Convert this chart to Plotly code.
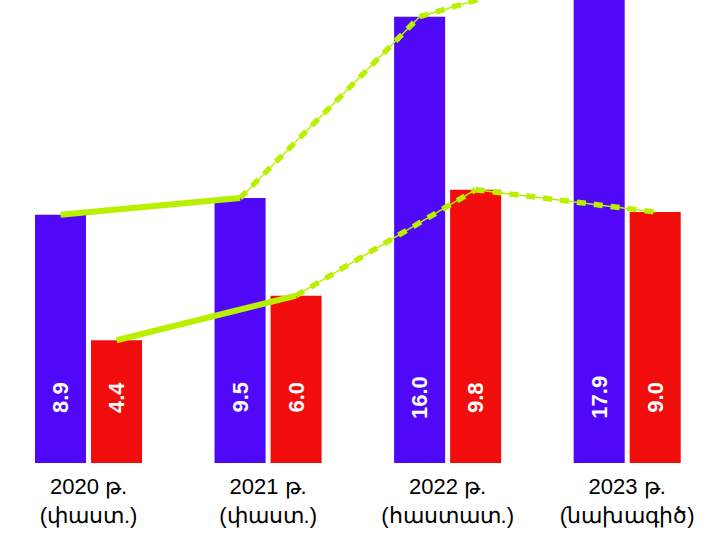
import plotly.graph_objects as go

categories = ["2020 թ.<br>(փաստ.)", "2021 թ.<br>(փաստ.)", "2022 թ.<br>(հաստատ.)", "2023 թ.<br>(նախագիծ)"]
blue_values = [8.9, 9.5, 16.0, 17.9]
red_values = [4.4, 6.0, 9.8, 9.0]

BLUE = "#5008F8"
RED = "#F20D0D"
LIME = "#B8F000"
FONT = "Liberation Sans, Arial, sans-serif"

XR = [-0.493, 3.45]
OFF = 0.156  # half-slot offset of each bar within a group (category units)

fig = go.Figure()
fig.add_trace(go.Bar(x=categories, y=blue_values, marker_color=BLUE, marker_line_width=0, name="blue"))
fig.add_trace(go.Bar(x=categories, y=red_values, marker_color=RED, marker_line_width=0, name="red"))

idx = list(range(len(categories)))
bx = [i - OFF for i in idx]
rx = [i + OFF for i in idx]

def seg(xs, ys, a, b, solid):
    if solid:
        fig.add_trace(go.Scatter(x=xs[a:b + 1], y=ys[a:b + 1], xaxis="x2", mode="lines",
                                 line=dict(color=LIME, width=6), hoverinfo="skip", showlegend=False))
    else:
        fig.add_trace(go.Scatter(x=xs[a:b + 1], y=ys[a:b + 1], xaxis="x2", mode="lines",
                                 line=dict(color=LIME, width=1.5), hoverinfo="skip", showlegend=False))
        fig.add_trace(go.Scatter(x=xs[a:b + 1], y=ys[a:b + 1], xaxis="x2", mode="lines",
                                 line=dict(color=LIME, width=5.5, dash="9px,8px"), hoverinfo="skip", showlegend=False))

for xs, ys in ((bx, blue_values), (rx, red_values)):
    seg(xs, ys, 0, 1, True)
    seg(xs, ys, 1, 2, False)
    seg(xs, ys, 2, 3, False)

annotations = []
for xs, ys in ((bx, blue_values), (rx, red_values)):
    for x, v in zip(xs, ys):
        annotations.append(dict(x=x, y=2.35, xref="x2", yref="y", text=f"{v:.1f}", textangle=-90,
                                showarrow=False, font=dict(family=FONT, size=22, color="white", weight="bold")))

fig.update_layout(
    width=708, height=536,
    margin=dict(l=0, r=0, t=0, b=73),
    paper_bgcolor="white", plot_bgcolor="white",
    barmode="group", bargap=0.376, bargroupgap=0.089,
    showlegend=False,
    annotations=annotations,
    xaxis=dict(range=XR, showgrid=False, zeroline=False, showline=False,
               ticks="outside", ticklen=4, tickcolor="rgba(0,0,0,0)",
               tickfont=dict(family=FONT, size=22, color="black")),
    xaxis2=dict(range=XR, overlaying="x", visible=False, type="linear"),
    yaxis=dict(range=[0, 16.6], visible=False, showgrid=False, zeroline=False),
)

fig.write_html("out.html", config={"displayModeBar": False},
               post_script="document.body.style.margin='0';document.body.style.overflow='hidden';")
